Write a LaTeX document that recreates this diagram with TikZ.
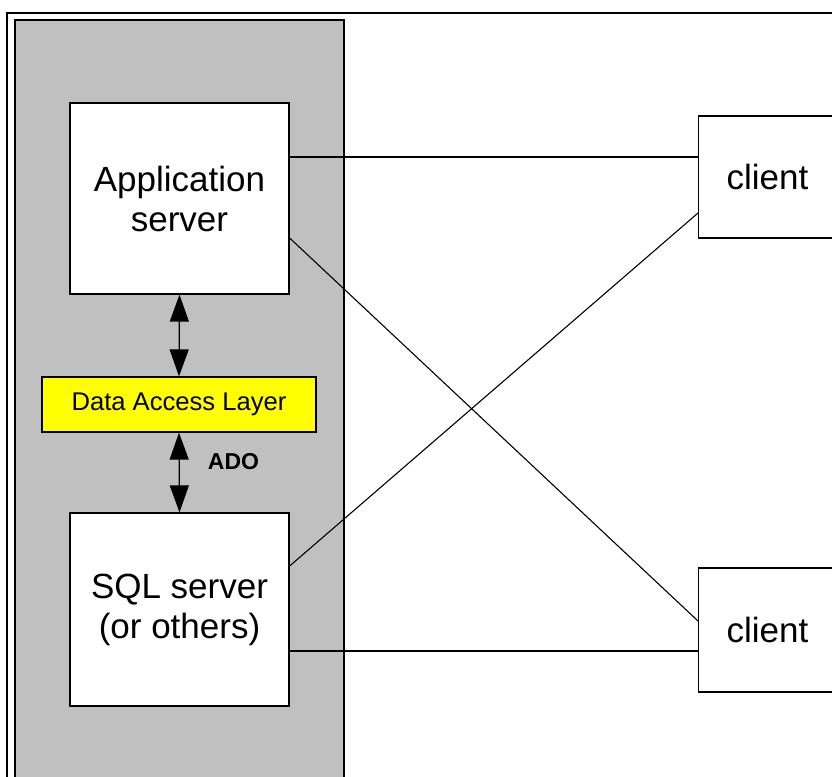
\documentclass[tikz,border=0pt]{standalone}
\usepackage{fontspec}
\setmainfont{Liberation Sans}
\usetikzlibrary{arrows.meta,calc}
\definecolor{panelgray}{HTML}{C0C0C0}
\definecolor{dalyellow}{HTML}{FFFF00}
\begin{document}
\begin{tikzpicture}[x=1pt,y=-1pt,
  box/.style={draw=black, line width=1.3pt, fill=white, inner sep=0pt},
  bigtext/.style={font=\fontsize{35}{40}\selectfont, align=center},
  conn/.style={line width=1.1pt, black},
  dbl/.style={line width=1.3pt, {Triangle[length=27pt,width=19pt]}-{Triangle[length=27pt,width=19pt]}}
]
\useasboundingbox (0,0) rectangle (832,776);
\clip (0,0) rectangle (832,776);
% outer frame
\draw[line width=1.3pt] (7,790) -- (7,13) -- (850,13);
% gray panel
\draw[line width=1.3pt, fill=panelgray] (15,790) -- (15,20) -- (344,20) -- (344,790);
% nodes
\node[box, bigtext, minimum width=219pt, minimum height=191pt] (app) at (179.5,198.5) {Application\\server};
\node[box, fill=dalyellow, minimum width=274pt, minimum height=55pt, font=\fontsize{25.6}{30}\selectfont] (dal) at (179,404.5) {Data Access Layer};
\node[box, bigtext, minimum width=219pt, minimum height=193pt] (sql) at (179.5,609.5) {SQL server\\(or others)};
\node[box, bigtext, anchor=west, minimum width=150pt, minimum height=122pt, text width=138pt, align=left, inner xsep=28pt] (c1) at (698,177) {client};
\node[box, bigtext, anchor=west, minimum width=150pt, minimum height=124pt, text width=138pt, align=left, inner xsep=28pt] (c2) at (698,630) {client};
\node[font=\fontsize{23}{26}\selectfont\bfseries] (ado) at (233.5,462) {ADO};
% arrows
\draw[dbl] (app.south) -- (dal.north);
\draw[dbl] (dal.south) -- (sql.north);
% connectors
\draw[conn] (app.east |- 0,157) -- (c1.west |- 0,157);
\draw[conn] (app.east |- 0,238) -- (c2.west |- 0,621);
\draw[conn] (sql.east |- 0,566) -- (c1.west |- 0,213);
\draw[conn] (sql.east |- 0,651) -- (c2.west |- 0,651);
\end{tikzpicture}
\end{document}
